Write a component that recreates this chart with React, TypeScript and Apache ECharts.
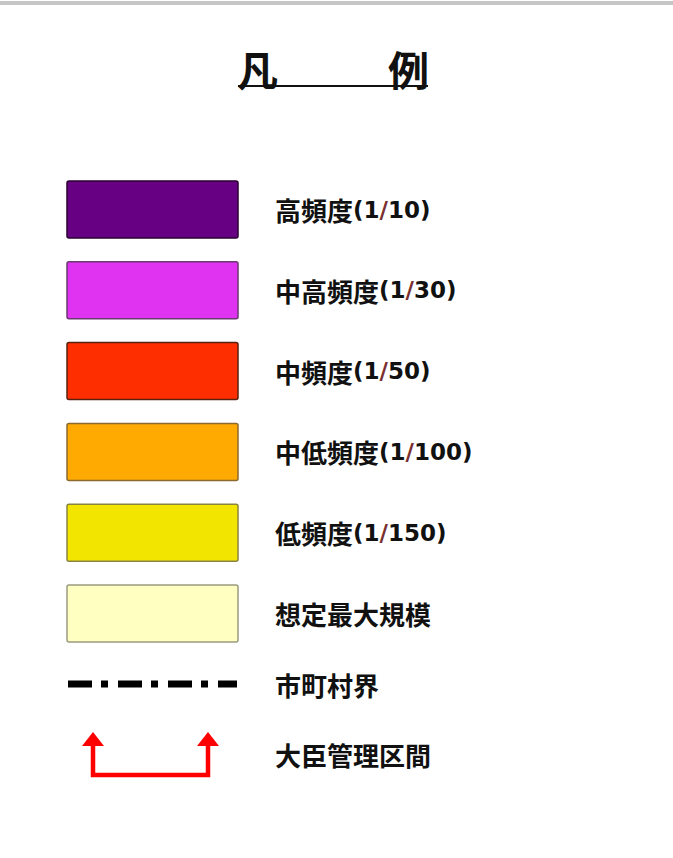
import React, { useEffect, useRef } from "react";
import * as echarts from "echarts";

const titleChars = ["凡", "例"];
const categories = ["高頻度", "中高頻度", "中頻度", "中低頻度", "低頻度", "想定最大規模"];
const frequencies = ["1/10", "1/30", "1/50", "1/100", "1/150", ""];
const fillColors = ["#680084", "#e033f2", "#ff2e00", "#ffaa00", "#f2e600", "#ffffc2"];
const strokeColors = ["#2a0030", "#6a3a70", "#5a2010", "#8a6a30", "#8a8440", "#9a9a80"];
const lineLabels = ["市町村界", "大臣管理区間"];

const FONT = '"Noto Sans CJK JP", "Noto Sans", sans-serif';
const NUMFONT = '"DejaVu Sans", "Noto Sans", sans-serif';

export default function App() {
  const ref = useRef<HTMLDivElement>(null);
  useEffect(() => {
    if (!ref.current) return;
    const chart = echarts.init(ref.current, null, { renderer: "svg" });
    const elements: any[] = [];
    elements.push({ type: "rect", shape: { x: 0, y: 1, width: 673, height: 4 }, style: { fill: "#c6c6c6" } });
    const titleX = [237, 388];
    titleChars.forEach((t, i) => {
      elements.push({
        type: "text",
        style: { text: t, x: titleX[i], y: 68, fontSize: 41, fontWeight: "bold", fontFamily: FONT, fill: "#111", verticalAlign: "middle", textAlign: "left" },
      });
    });
    elements.push({ type: "line", shape: { x1: 238, y1: 86, x2: 428, y2: 86 }, style: { stroke: "#111", lineWidth: 2 } });

    const boxX = 67, boxW = 171, boxH = 57, top0 = 181, step = 80.8;
    const rich = {
      a: { fontSize: 26, fontWeight: "bold", fontFamily: FONT, fill: "#111" },
      n: { fontSize: 23, fontWeight: "bold", fontFamily: NUMFONT, fill: "#111" },
      s: { fontSize: 23, fontWeight: "bold", fontFamily: NUMFONT, fill: "#7a3030" },
    };
    categories.forEach((c, i) => {
      const y = top0 + i * step;
      elements.push({
        type: "rect",
        shape: { x: boxX, y, width: boxW, height: boxH, r: 2 },
        style: { fill: fillColors[i], stroke: strokeColors[i], lineWidth: 1.5 },
      });
      const f = frequencies[i];
      const parts = f.split("/");
      const text = f ? `{a|${c}}{n|(${parts[0]}}{s|/}{n|${parts[1]})}` : `{a|${c}}`;
      elements.push({
        type: "text",
        style: { text, x: 275, y: y + boxH / 2, verticalAlign: "middle", textAlign: "left", fontFamily: FONT, rich },
      });
    });

    elements.push({
      type: "line",
      shape: { x1: 68, y1: 684, x2: 237, y2: 684 },
      style: { stroke: "#000", lineWidth: 7, lineDash: [24, 9, 7, 10] },
    });
    elements.push({
      type: "text",
      style: { text: lineLabels[0], x: 275, y: 684, verticalAlign: "middle", fontSize: 26, fontWeight: "bold", fontFamily: FONT, fill: "#111" },
    });

    elements.push({
      type: "polyline",
      shape: { points: [[93, 744], [93, 775], [208, 775], [208, 744]] },
      style: { stroke: "#ff0000", lineWidth: 4.5, fill: "none" },
    });
    elements.push({ type: "polygon", shape: { points: [[82, 746], [93, 732], [104, 746]] }, style: { fill: "#ff0000" } });
    elements.push({ type: "polygon", shape: { points: [[197, 746], [208, 732], [219, 746]] }, style: { fill: "#ff0000" } });
    elements.push({
      type: "text",
      style: { text: lineLabels[1], x: 275, y: 754, verticalAlign: "middle", fontSize: 26, fontWeight: "bold", fontFamily: FONT, fill: "#111" },
    });

    chart.setOption({ animation: false, backgroundColor: "#ffffff", graphic: { elements } });
    return () => chart.dispose();
  }, []);
  return <div ref={ref} style={{ position: "absolute", left: 0, top: 0, width: 673, height: 858 }} />;
}
